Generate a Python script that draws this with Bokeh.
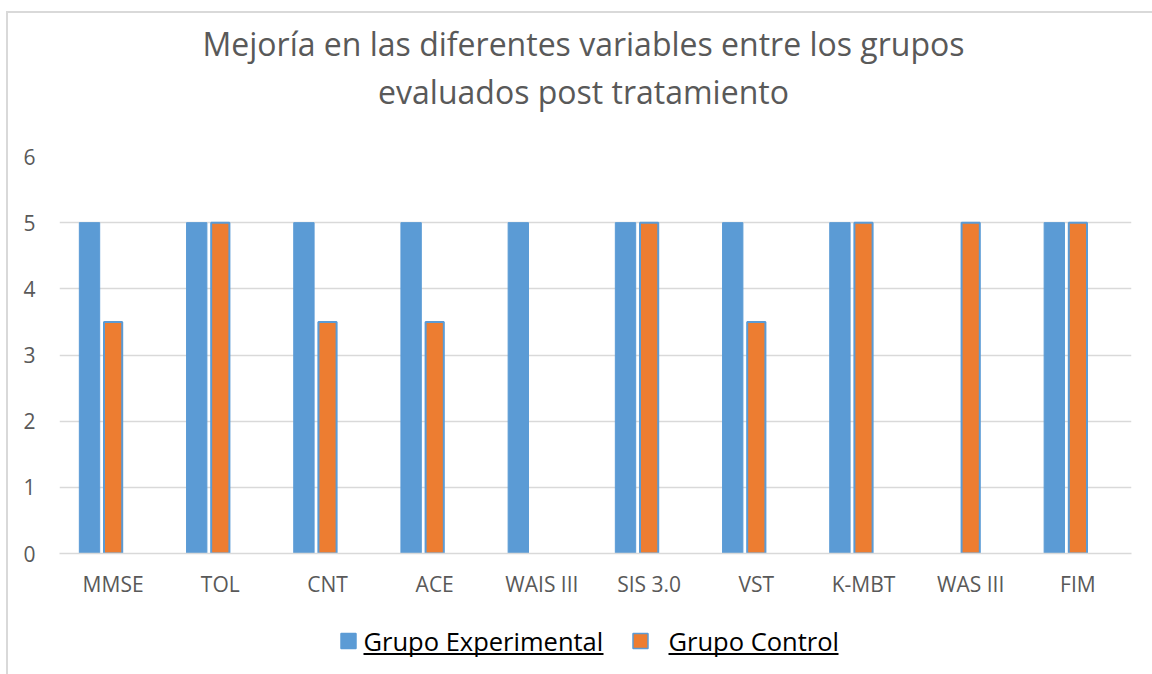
from bokeh.plotting import figure
from bokeh.layouts import column
from bokeh.models import ColumnDataSource, FactorRange, Range1d
from bokeh.core.properties import value
from bokeh.transform import dodge
from bokeh.embed import file_html
from bokeh.resources import INLINE

categories = ["MMSE", "TOL", "CNT", "ACE", "WAIS III", "SIS 3.0", "VST", "K-MBT", "WAS III", "FIM"]
experimental = [5, 5, 5, 5, 5, 5, 5, 5, 0, 5]
control = [3.5, 5, 3.5, 3.5, 0, 5, 3.5, 5, 5, 5]
series_names = ["Grupo Experimental", "Grupo Control"]
title_lines = ["Mejoría en las diferentes variables entre los grupos", "evaluados post tratamiento"]
y_ticks = [0, 1, 2, 3, 4, 5, 6]

BLUE = "#5B9BD5"
ORANGE = "#ED7D31"
GRID = "#D9D9D9"
TXT = "#595959"
FONT = "Open Sans"

def nz(vals):
    return [v if v != 0 else float("nan") for v in vals]

source = ColumnDataSource(data=dict(cat=categories, exp=nz(experimental), ctl=nz(control)))

PW, PH = 1152, 674          # page size
OX, OY = 8, 13              # canvas origin on the page (margin 6/11 + 2px border)
FL, FR, FT, FB = 59, 1131, 156, 553   # chart frame edges in page pixels
TOP = 133                   # page y where the chart canvas starts (title strip above)
STRIP = 606                 # page y where the legend strip starts

W = PW - OX


def strip(y0, y1):
    """A plain canvas whose data coordinates are page pixels."""
    f = figure(width=W, height=y1 - y0, x_range=Range1d(FL, FR), y_range=Range1d(y1, y0),
               output_backend="svg", toolbar_location=None,
               min_border_left=FL - OX, min_border_right=PW - FR, min_border_top=0,
               min_border_bottom=0, x_axis_location=None, y_axis_location=None)
    f.outline_line_color = None
    f.grid.visible = False
    f.background_fill_color = "white"
    f.border_fill_color = "white"
    return f


# title strip
tt = strip(OY, TOP)
title_src = ColumnDataSource(data=dict(x=[583, 583], y=[43, 91], t=title_lines))
tt.text(x="x", y="y", text="t", text_font=value(FONT), text_font_size=value("32px"),
        text_color=TXT, text_align="center", text_baseline="middle", source=title_src)

# chart
p = figure(x_range=FactorRange(*categories, range_padding=0), y_range=(0, 6),
           width=W, height=STRIP - TOP, output_backend="svg", toolbar_location=None,
           min_border_left=FL - OX, min_border_right=PW - FR, min_border_top=FT - TOP,
           min_border_bottom=STRIP - FB)
p.outline_line_color = None
p.background_fill_color = "white"
p.border_fill_color = "white"

r1 = p.vbar(x=dodge("cat", -0.22, range=p.x_range), top="exp", width=0.19, source=source,
            fill_color=BLUE, line_color=BLUE, line_width=1)
r2 = p.vbar(x=dodge("cat", 0.0, range=p.x_range), top="ctl", width=0.17, source=source,
            fill_color=ORANGE, line_color=BLUE, line_width=2)

p.yaxis.ticker = y_ticks
p.yaxis.axis_line_color = None
p.yaxis.major_tick_line_color = None
p.yaxis.minor_tick_line_color = None
p.yaxis.major_tick_out = 0
p.yaxis.major_label_text_font = FONT
p.yaxis.major_label_text_font_size = "21px"
p.yaxis.major_label_text_color = TXT
p.yaxis.major_label_standoff = 24

p.xaxis.axis_line_color = GRID
p.xaxis.axis_line_width = 1.5
p.xaxis.major_tick_line_color = None
p.xaxis.minor_tick_line_color = None
p.xaxis.major_tick_out = 0
p.xaxis.major_label_text_font = FONT
p.xaxis.major_label_text_font_size = "21px"
p.xaxis.major_label_text_color = TXT
p.xaxis.major_label_standoff = 16

p.xgrid.grid_line_color = None
p.ygrid.grid_line_color = GRID
p.ygrid.grid_line_width = 1.5

# legend strip
lg = strip(STRIP, PH)
sq_left = [340, 632]
txt_left = [363, 668]
txt_right = [603, 838]
legend_src = ColumnDataSource(data=dict(
    x=[v + 8 for v in sq_left], y=[640.5] * 2, name=series_names,
    fill=[BLUE, ORANGE], tx=txt_left, ty=[640] * 2,
    ux0=txt_left, ux1=txt_right, uy=[653.5] * 2))
lg.rect(x="x", y="y", width=15, height=15, width_units="screen", height_units="screen",
        fill_color="fill", line_color=BLUE, line_width=1.5, source=legend_src)
lg.text(x="tx", y="ty", text="name", text_font=value(FONT), text_font_size=value("25.5px"),
        text_color="black", text_baseline="middle", text_align="left", source=legend_src)
lg.segment(x0="ux0", y0="uy", x1="ux1", y1="uy", line_color="black", line_width=2,
           source=legend_src)

layout = column(tt, p, lg, spacing=0, margin=(11, 0, 0, 6),
                styles={"border-left": "2px solid #D9D9D9", "border-top": "2px solid #D9D9D9"})
open("out.html", "w").write(file_html(layout, INLINE))
